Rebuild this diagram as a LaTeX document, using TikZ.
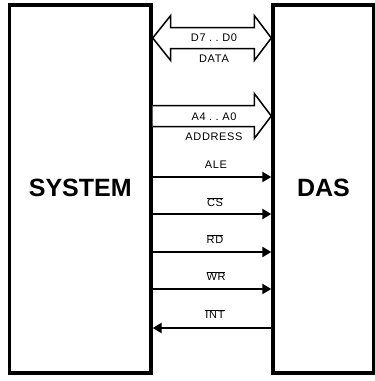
\documentclass[tikz,border=0pt]{standalone}
\usepackage{fontspec}
\setmainfont{Liberation Sans}
\newfontfamily\lblfont[LetterSpace=6]{Liberation Sans}
\usetikzlibrary{arrows.meta}
\tikzset{
  blk/.style={draw, line width=3.4pt, inner sep=0pt, outer sep=0.5\pgflinewidth,
    font=\fontsize{25}{25}\selectfont\bfseries},
  sig/.style={line width=2.2pt, -{Triangle[length=9pt,width=10pt]}},
  bus/.style={draw, fill=white, line width=1.5pt, line join=miter},
  lbl/.style={font=\fontsize{11}{11}\lblfont, inner sep=0pt, anchor=center}
}
\newcommand{\ovl}[1]{$\overline{\mbox{#1}}$}
\begin{document}
\begin{tikzpicture}[x=1pt,y=-1pt]
\useasboundingbox (0,0) rectangle (375,381);
\node[blk, minimum width=141.5pt, minimum height=368pt] (sys) at (80.25,189) {\raisebox{2pt}{SYSTEM}};
\node[blk, minimum width=101pt, minimum height=368pt] (das) at (323.5,189) {\raisebox{2pt}{DAS}};
% data bus (bidirectional)
\coordinate (dl) at (sys.east |- 0,38);
\coordinate (dr) at (das.west |- 0,38);
\draw[bus] (dl) -- ([shift={(18,-22.5)}]dl) -- ([shift={(18,-10.5)}]dl) -- ([shift={(-17,-10.5)}]dr)
  -- ([shift={(-17,-22.5)}]dr) -- (dr) -- ([shift={(-17,22.5)}]dr) -- ([shift={(-17,10.5)}]dr)
  -- ([shift={(18,10.5)}]dl) -- ([shift={(18,22.5)}]dl) -- cycle;
\node[lbl] (d70) at (214,38) {D7\hspace{3.5pt}.\hspace{3.5pt}.\hspace{3.5pt}D0};
\node[lbl] (data) at (214,59) {DATA};
% address bus
\coordinate (al) at (sys.east |- 0,116);
\coordinate (ar) at (das.west |- 0,116);
\draw[bus] ([shift={(0,-10.5)}]al) -- ([shift={(-17,-10.5)}]ar) -- ([shift={(-17,-22.5)}]ar) -- (ar)
  -- ([shift={(-17,22.5)}]ar) -- ([shift={(-17,10.5)}]ar) -- ([shift={(0,10.5)}]al);
\node[lbl] (a40) at (214,117) {A4\hspace{3.5pt}.\hspace{3.5pt}.\hspace{3.5pt}A0};
\node[lbl] (addr) at (214,137) {ADDRESS};
% control signals
\draw[sig] (sys.east |- 0,177) -- (das.west |- 0,177);
\node[lbl] (ale) at (216,165) {ALE};
\draw[sig] (sys.east |- 0,214) -- (das.west |- 0,214);
\node[lbl] (cs) at (215,202) {\ovl{CS}};
\draw[sig] (sys.east |- 0,252) -- (das.west |- 0,252);
\node[lbl] (rd) at (215,239) {\ovl{RD}};
\draw[sig] (sys.east |- 0,289) -- (das.west |- 0,289);
\node[lbl] (wr) at (216,276) {\ovl{WR}};
\draw[sig] (das.west |- 0,328) -- (sys.east |- 0,328);
\node[lbl] (int) at (215,314) {\ovl{INT}};
\end{tikzpicture}
\end{document}
